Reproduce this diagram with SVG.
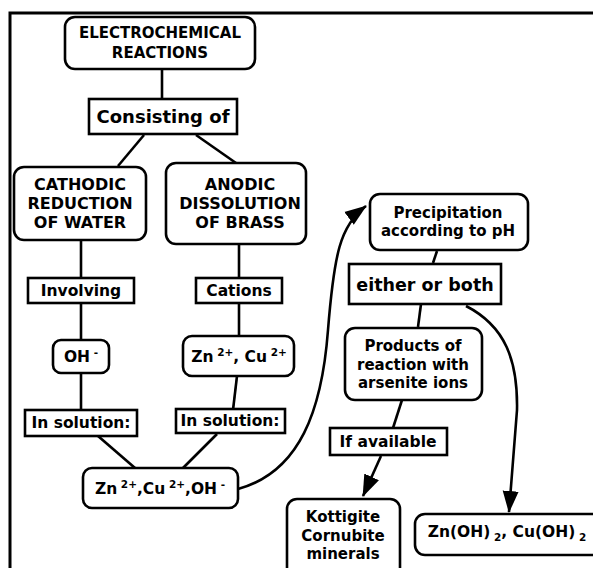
<svg xmlns="http://www.w3.org/2000/svg" width="593" height="568" viewBox="0 0 593 568">
<defs>
<marker id="ah" markerUnits="userSpaceOnUse" markerWidth="22" markerHeight="22" viewBox="0 0 22 22" refX="21" refY="11" orient="auto">
<path d="M0,3 L22,11 L0,19 Z" fill="#000"/>
</marker>
<style>
.n{fill:#fff;stroke:#000;stroke-width:2.6}
.c{fill:none;stroke:#000;stroke-width:2.6}
text{font-family:"DejaVu Sans","Verdana",sans-serif;font-weight:bold;fill:#000;text-anchor:middle}
.t14{font-size:15px}
.t15{font-size:15.5px}
.t16{font-size:16px}
.sup{font-size:10.5px}
</style>
</defs>
<rect width="593" height="568" fill="#fff"/>
<rect x="10" y="13" width="600" height="580" fill="none" stroke="#000" stroke-width="3"/>
<g id="connectors">
<line class="c" x1="162" y1="69" x2="162" y2="99"/>
<line class="c" x1="144" y1="135" x2="118" y2="166"/>
<line class="c" x1="196" y1="135" x2="236" y2="163"/>
<line class="c" x1="81" y1="240" x2="81" y2="278"/>
<line class="c" x1="81" y1="303" x2="81" y2="340"/>
<line class="c" x1="81" y1="373" x2="81" y2="410"/>
<line class="c" x1="239" y1="244" x2="239" y2="278"/>
<line class="c" x1="239" y1="303" x2="239" y2="336"/>
<line class="c" x1="237" y1="376" x2="233" y2="410"/>
<line class="c" x1="98" y1="436" x2="135" y2="468"/>
<line class="c" x1="217" y1="434" x2="183" y2="468"/>
<path class="c" d="M238,489 C300,472 322,410 328,330 C334,255 340,225 366,206" marker-end="url(#ah)"/>
<line class="c" x1="437" y1="251" x2="433" y2="263"/>
<line class="c" x1="421" y1="304" x2="418" y2="327"/>
<line class="c" x1="402" y1="400" x2="393" y2="428"/>
<line class="c" x1="381" y1="456" x2="363" y2="496" marker-end="url(#ah)"/>
<path class="c" d="M466,306 C505,326 518,360 517,410 L509,512" marker-end="url(#ah)"/>
</g>
<g id="n1">
<rect class="n" x="65" y="17" width="190" height="52" rx="10"/>
<text class="t14" x="160" y="38">ELECTROCHEMICAL</text>
<text class="t14" x="160" y="58">REACTIONS</text>
</g>
<g id="n2">
<rect class="n" x="89" y="99" width="148" height="35"/>
<text x="163" y="123" font-size="18">Consisting of</text>
</g>
<g id="n3">
<rect class="n" x="14" y="167" width="132" height="73" rx="10"/>
<text class="t16" x="80" y="190">CATHODIC</text>
<text class="t16" x="80" y="209">REDUCTION</text>
<text class="t16" x="80" y="228">OF WATER</text>
</g>
<g id="n4">
<rect class="n" x="166" y="163" width="140" height="81" rx="10"/>
<text class="t16" x="240" y="190">ANODIC</text>
<text class="t16" x="240" y="209">DISSOLUTION</text>
<text class="t16" x="240" y="228">OF BRASS</text>
</g>
<g id="n5">
<rect class="n" x="28" y="278" width="106" height="25"/>
<text class="t15" x="81" y="296">Involving</text>
</g>
<g id="n6">
<rect class="n" x="196" y="278" width="86" height="25"/>
<text class="t15" x="239" y="296">Cations</text>
</g>
<g id="n7">
<rect class="n" x="53" y="340" width="56" height="33" rx="8"/>
<text class="t15" x="81" y="362">OH<tspan class="sup" dy="-6"> -</tspan></text>
</g>
<g id="n8">
<rect class="n" x="183" y="336" width="111" height="40" rx="9"/>
<text class="t15" x="239" y="362">Zn<tspan class="sup" dy="-6"> 2+</tspan><tspan dy="6">, Cu</tspan><tspan class="sup" dy="-6"> 2+</tspan></text>
</g>
<g id="n9">
<rect class="n" x="25" y="410" width="112" height="26"/>
<text class="t15" x="81" y="428">In solution:</text>
</g>
<g id="n10">
<rect class="n" x="176" y="409" width="109" height="24"/>
<text class="t15" x="230" y="426">In solution:</text>
</g>
<g id="n11">
<rect class="n" x="83" y="468" width="155" height="40" rx="9"/>
<text class="t15" x="160" y="494">Zn<tspan class="sup" dy="-6"> 2+</tspan><tspan dy="6">,Cu</tspan><tspan class="sup" dy="-6"> 2+</tspan><tspan dy="6">,OH</tspan><tspan class="sup" dy="-6"> -</tspan></text>
</g>
<g id="n12">
<rect class="n" x="370" y="194" width="158" height="56" rx="10"/>
<text class="t14" x="448" y="218">Precipitation</text>
<text class="t14" x="448" y="236">according to pH</text>
</g>
<g id="n13">
<rect class="n" x="349" y="264" width="152" height="40"/>
<text x="425" y="291" font-size="17.5">either or both</text>
</g>
<g id="n14">
<rect class="n" x="345" y="328" width="137" height="72" rx="10"/>
<text class="t14" x="413" y="351">Products of</text>
<text class="t14" x="413" y="370">reaction with</text>
<text class="t14" x="413" y="388">arsenite ions</text>
</g>
<g id="n15">
<rect class="n" x="330" y="428" width="117" height="27"/>
<text class="t15" x="388" y="447">If available</text>
</g>
<g id="n16">
<rect class="n" x="287" y="499" width="113" height="80" rx="10"/>
<text class="t14" x="343" y="522">Kottigite</text>
<text class="t14" x="343" y="541">Cornubite</text>
<text class="t14" x="343" y="559">minerals</text>
</g>
<g id="n17">
<rect class="n" x="415" y="514" width="200" height="41" rx="10"/>
<text class="t15" x="507" y="537">Zn(OH)<tspan class="sup" dy="4"> 2</tspan><tspan dy="-4">, Cu(OH)</tspan><tspan class="sup" dy="4"> 2</tspan></text>
</g>
</svg>
